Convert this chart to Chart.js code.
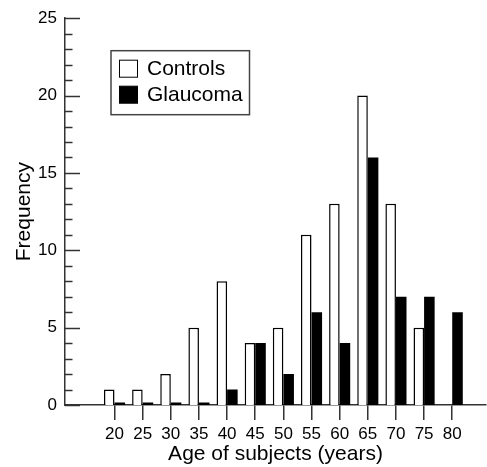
<!DOCTYPE html>
<html lang="en">
<head>
<meta charset="UTF-8">
<title>Age of subjects</title>
<style>
body { margin: 0; background: #fff; }
#wrap { width: 487px; height: 467px; }
</style>
</head>
<body>
<div id="wrap"><canvas id="ageChart" width="487" height="467"></canvas></div>
<script src="https://cdn.jsdelivr.net/npm/chart.js"></script>
<script>
const ages = [20, 25, 30, 35, 40, 45, 50, 55, 60, 65, 70, 75, 80];
const controls = [1, 1, 2, 5, 8, 4, 5, 11, 13, 20, 13, 5, 0];
const glaucoma = [0, 0, 0, 0, 1, 4, 2, 6, 4, 16, 7, 7, 6];
const yTicks = [0, 5, 10, 15, 20, 25];
const seriesNames = ['Controls', 'Glaucoma'];

const FONT = "'Liberation Sans', Arial, sans-serif";
const AXIS = '#333';

// y ticks point into the plot, with a minor mark every unit
const inwardTicks = {
    id: 'inwardTicks',
    afterDraw(chart) {
        const { ctx, chartArea, scales } = chart;
        ctx.save();
        ctx.strokeStyle = AXIS;
        ctx.lineWidth = 1.5;
        for (let v = scales.y.min; v <= scales.y.max; v++) {
            const y = Math.round(scales.y.getPixelForValue(v)) + 0.5;
            const len = v % 5 === 0 ? 15 : 7.5;
            ctx.beginPath();
            ctx.moveTo(chartArea.left, y);
            ctx.lineTo(chartArea.left + len, y);
            ctx.stroke();
        }
        ctx.restore();
    }
};

// boxed legend sitting inside the plot, top left
const boxLegend = {
    id: 'boxLegend',
    afterDraw(chart) {
        const { ctx, chartArea } = chart;
        const x = chartArea.left + 46, y = chartArea.top + 32.5;
        ctx.save();
        ctx.strokeStyle = '#444';
        ctx.lineWidth = 1.5;
        ctx.strokeRect(x, y, 138.5, 64);
        ctx.font = '21px ' + FONT;
        ctx.textBaseline = 'middle';
        chart.data.datasets.forEach((ds, i) => {
            const ry = y + 9.5 + i * 26;
            ctx.fillStyle = ds.backgroundColor;
            ctx.fillRect(x + 8.5, ry, 18, 17);
            ctx.strokeStyle = '#000';
            ctx.lineWidth = 1;
            ctx.strokeRect(x + 8.5, ry, 18, 17);
            ctx.fillStyle = '#000';
            ctx.fillText(ds.label, x + 36, ry + 9);
        });
        ctx.restore();
    }
};

new Chart(document.getElementById('ageChart'), {
    type: 'bar',
    data: {
        datasets: [{
            label: seriesNames[0],
            data: ages.map((a, i) => ({ x: a, y: controls[i] })),
            backgroundColor: '#fff',
            borderColor: '#000',
            borderWidth: 1.5
        }, {
            label: seriesNames[1],
            data: ages.map((a, i) => ({ x: a, y: glaucoma[i] })),
            backgroundColor: '#000',
            borderColor: '#000',
            borderWidth: 0,
            minBarLength: 2.5
        }]
    },
    options: {
        responsive: false,
        animation: false,
        devicePixelRatio: 1,
        categoryPercentage: 0.75,
        barPercentage: 1,
        layout: { padding: { top: 17, right: 1, left: 0, bottom: 0 } },
        plugins: { legend: { display: false }, tooltip: { enabled: false } },
        scales: {
            x: {
                type: 'linear',
                offset: false,
                min: 11.2,
                max: 86,
                afterBuildTicks: (s) => { s.ticks = ages.map(v => ({ value: v })); },
                afterFit: (s) => { s.height = 62; },
                grid: { display: true, offset: false, drawOnChartArea: false, drawTicks: true, tickLength: 15, color: AXIS, lineWidth: 1.5 },
                border: { color: AXIS, width: 1.5 },
                ticks: { color: '#000', font: { size: 17, family: FONT }, padding: 4, maxRotation: 0, autoSkip: false },
                title: { display: true, text: 'Age of subjects (years)', color: '#000', font: { size: 21, family: FONT, lineHeight: 1 }, padding: { top: 0, bottom: 2 } }
            },
            y: {
                min: 0,
                max: 25,
                afterBuildTicks: (s) => { s.ticks = yTicks.map(v => ({ value: v })); },
                afterFit: (s) => { s.width = 65; },
                grid: { display: false, drawTicks: false },
                border: { color: AXIS, width: 1.5 },
                ticks: { color: '#000', font: { size: 17, family: FONT }, padding: 8 },
                title: { display: true, text: 'Frequency', color: '#000', font: { size: 21, family: FONT, lineHeight: 1 }, padding: { top: 14, bottom: 0 } }
            }
        }
    },
    plugins: [inwardTicks, boxLegend]
});
</script>
</body>
</html>
